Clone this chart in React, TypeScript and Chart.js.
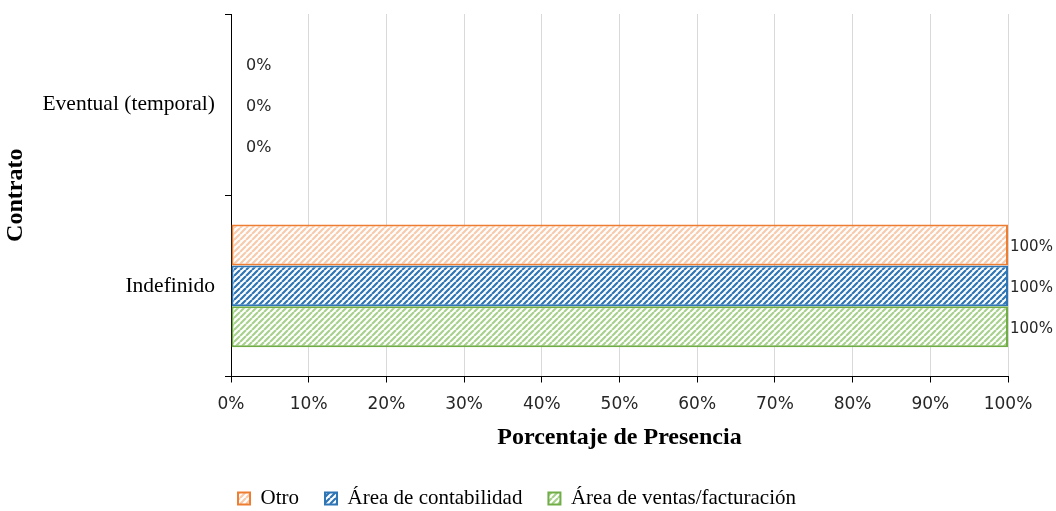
import React, { useEffect, useRef } from "react";
import { Chart, registerables } from "chart.js";

Chart.register(...registerables);

const categories = ["Eventual (temporal)", "Indefinido"];
const seriesNames = ["Otro", "Área de contabilidad", "Área de ventas/facturación"];
const otroValues = [0, 100];
const contabilidadValues = [0, 100];
const ventasValues = [0, 100];
const xTickValues = [0, 10, 20, 30, 40, 50, 60, 70, 80, 90, 100];

function makeHatch(stripe: string, bg: string, size = 6, lw = 2.2) {
  const c = document.createElement("canvas");
  c.width = size;
  c.height = size;
  const ctx = c.getContext("2d")!;
  ctx.fillStyle = bg;
  ctx.fillRect(0, 0, size, size);
  ctx.strokeStyle = stripe;
  ctx.lineWidth = lw;
  ctx.beginPath();
  for (const o of [-size, 0, size]) {
    ctx.moveTo(o, size);
    ctx.lineTo(o + size, 0);
  }
  ctx.stroke();
  return ctx.createPattern(c, "repeat")!;
}

const dataLabelPlugin = {
  id: "dataLabels",
  afterDatasetsDraw(chart: any) {
    const ctx = chart.ctx;
    ctx.save();
    ctx.fillStyle = "#262626";
    ctx.textBaseline = "middle";
    ctx.textAlign = "left";
    chart.data.datasets.forEach((ds: any, di: number) => {
      const meta = chart.getDatasetMeta(di);
      meta.data.forEach((el: any, i: number) => {
        const v = ds.data[i];
        ctx.font = v === 0 ? "16px 'DejaVu Sans'" : "15px 'DejaVu Sans'";
        const x = v === 0 ? el.x + 15 : el.x + 2;
        ctx.fillText(`${v}%`, x, el.y + 2);
      });
    });
    ctx.restore();
  },
};

const legendShiftPlugin = {
  id: "legendShift",
  afterLayout(chart: any) {
    const lg = chart.legend;
    if (!lg) return;
    lg.left += 13;
    lg.right += 13;
    lg.top += 2;
    lg.bottom += 2;
  },
};

export default function App() {
  const ref = useRef<HTMLCanvasElement>(null);
  useEffect(() => {
    if (!ref.current) return;
    const orange = makeHatch("#f8cbad", "#ffffff");
    const blue = makeHatch("#2e75b6", "#ffffff");
    const green = makeHatch("#a9d18e", "#ffffff");
    const chart = new Chart(ref.current, {
      type: "bar",
      data: {
        labels: categories,
        datasets: [
          {
            label: seriesNames[0],
            data: otroValues,
            backgroundColor: orange,
            borderColor: "#ed7d31",
            borderWidth: 2,
            borderSkipped: false,
          },
          {
            label: seriesNames[1],
            data: contabilidadValues,
            backgroundColor: blue,
            borderColor: "#2e75b6",
            borderWidth: 2,
            borderSkipped: false,
          },
          {
            label: seriesNames[2],
            data: ventasValues,
            backgroundColor: green,
            borderColor: "#70ad47",
            borderWidth: 2,
            borderSkipped: false,
          },
        ] as any,
      },
      options: {
        indexAxis: "y",
        animation: false,
        responsive: false,
        maintainAspectRatio: false,
        datasets: { bar: { categoryPercentage: 0.676, barPercentage: 1 } },
        layout: { padding: { top: 14, right: 48, left: 0, bottom: -6 } },
        plugins: {
          legend: {
            position: "bottom",
            labels: {
              boxWidth: 12,
              boxHeight: 12,
              padding: 26,
              color: "#000",
              font: { family: "'Liberation Serif'", size: 21 },
            },
          },
          tooltip: { enabled: false },
        },
        scales: {
          x: {
            min: 0,
            max: 100,
            afterBuildTicks: (s: any) => {
              s.ticks = xTickValues.map((v) => ({ value: v }));
            },
            afterFit: (s: any) => {
              s.height = 83.5;
            },
            grid: { color: "#d9d9d9", tickColor: "#000", tickLength: 6 },
            border: { color: "#000", width: 1 },
            ticks: {
              callback: (v: any) => `${v}%`,
              color: "#262626",
              padding: 12,
              maxRotation: 0,
              font: { family: "'DejaVu Sans'", size: 17 },
            },
            title: {
              display: true,
              text: "Porcentaje de Presencia",
              color: "#000",
              font: { family: "'Liberation Serif'", size: 24, weight: "bold" },
              padding: { top: 0, bottom: 8 },
            },
          },
          y: {
            afterFit: (s: any) => {
              s.width = 231;
              s.paddingTop = 0;
              s.paddingBottom = 0;
            },
            grid: { drawOnChartArea: false, tickColor: "#000", tickLength: 6, offset: true },
            border: { color: "#000", width: 1 },
            ticks: {
              color: "#000",
              padding: 10,
              font: { family: "'Liberation Serif'", size: 21.5 },
            },
            title: {
              display: true,
              text: "Contrato",
              color: "#000",
              font: { family: "'Liberation Serif'", size: 24, weight: "bold" },
              padding: { top: 1, bottom: 0 },
            },
          },
        },
      } as any,
      plugins: [dataLabelPlugin, legendShiftPlugin],
    });
    return () => chart.destroy();
  }, []);
  return (
    <div style={{ position: "fixed", left: 0, top: 0, width: 1056, height: 511, background: "#fff" }}>
      <canvas ref={ref} width={1056} height={511} style={{ width: 1056, height: 511 }} />
    </div>
  );
}
